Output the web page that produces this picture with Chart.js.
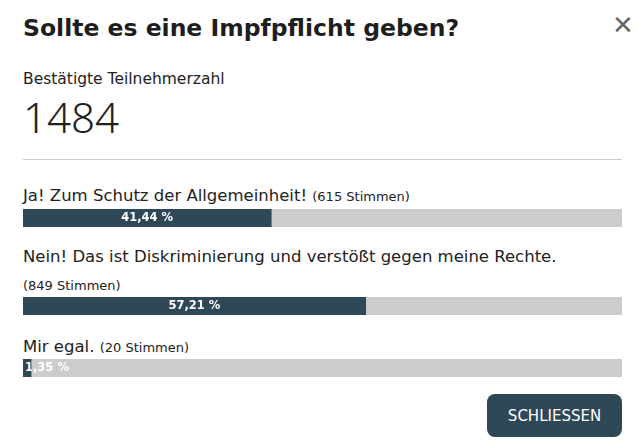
<!DOCTYPE html>
<html><head><meta charset="utf-8">
<script src="https://cdn.jsdelivr.net/npm/chart.js"></script>
<style>
body{margin:0;width:640px;height:445px;background:#fff;font-family:"DejaVu Sans",sans-serif;color:#222;position:relative;overflow:hidden}
.a{position:absolute;left:23px;white-space:nowrap}
h1{position:absolute;left:23px;top:14px;margin:0;font-size:23.5px;font-weight:700;color:#1e1e1e}
.x{position:absolute;left:612px;top:6px;font-size:26px;color:#666;font-family:"Noto Sans"}
.q{font-size:16.5px;color:#222}.q small{font-size:13px}
canvas{position:absolute;left:23px}
.btn{position:absolute;left:487px;top:394px;width:135px;height:43px;background:#2f4858;border-radius:8px;color:#fff;font-size:15px;display:flex;align-items:center;justify-content:center}
</style></head><body>
<h1>Sollte es eine Impfpflicht geben?</h1>
<div class="x">✕</div>
<div class="a" style="top:70px;font-size:15.5px">Bestätigte Teilnehmerzahl</div>
<div class="a" style="top:88px;font-size:42px;font-weight:300;font-family:'Noto Sans'">1484</div>
<div style="position:absolute;left:23px;top:159px;width:599px;height:1px;background:#ccc"></div>
<div class="a q" style="top:186px">Ja! Zum Schutz der Allgemeinheit! <small>(615 Stimmen)</small></div>
<canvas id="c0" width="599" height="18" style="top:209px"></canvas>
<div class="a q" style="top:247px">Nein! Das ist Diskriminierung und verstößt gegen meine Rechte.</div>
<div class="a q" style="top:275px"><small>(849 Stimmen)</small></div>
<canvas id="c1" width="599" height="18" style="top:297px"></canvas>
<div class="a q" style="top:337px">Mir egal. <small>(20 Stimmen)</small></div>
<canvas id="c2" width="599" height="18" style="top:359px"></canvas>
<div class="btn">SCHLIESSEN</div>
<script>
const categories=["Ja! Zum Schutz der Allgemeinheit!","Nein! Das ist Diskriminierung und verstößt gegen meine Rechte.","Mir egal."];
const votes=[615,849,20];
const percents=[41.44,57.21,1.35];
const lbl={id:'lbl',afterDatasetsDraw(ch){const m=ch.getDatasetMeta(0).data[0];const ctx=ch.ctx;const v=ch.data.datasets[0].data[0];
const t=v.toFixed(2).replace('.',',')+' %';ctx.save();ctx.fillStyle='#fff';ctx.font='bold 11.5px "DejaVu Sans"';ctx.textBaseline='middle';
const w=ctx.measureText(t).width;const L=m.base,R=m.x;
if(R-L>w+6){ctx.textAlign='center';ctx.fillText(t,(L+R)/2,m.y);}else{ctx.textAlign='left';ctx.fillText(t,L+2,m.y);}ctx.restore();}};
percents.forEach((p,i)=>{new Chart(document.getElementById('c'+i),{type:'bar',
data:{labels:[categories[i]],datasets:[{data:[p],backgroundColor:'#2f4858',barPercentage:1,categoryPercentage:1},{data:[100-p],backgroundColor:'#cccccc',barPercentage:1,categoryPercentage:1}]},
options:{indexAxis:'y',responsive:false,animation:false,layout:{padding:0},plugins:{legend:{display:false},tooltip:{enabled:false}},
scales:{x:{stacked:true,min:0,max:100,display:false},y:{stacked:true,display:false}}},plugins:[lbl]});});
</script></body></html>
